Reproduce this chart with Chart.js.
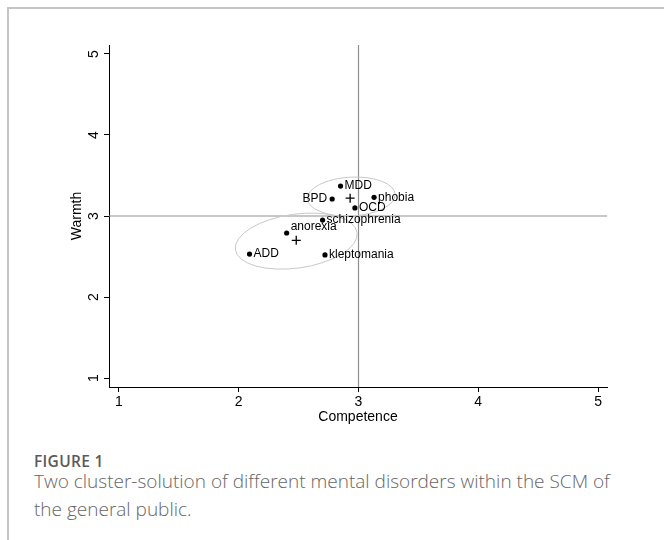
<!DOCTYPE html>
<html>
<head>
<meta charset="utf-8">
<script src="https://cdn.jsdelivr.net/npm/chart.js@4.4.1/dist/chart.umd.min.js"></script>
<style>
	html, body { margin: 0; padding: 0; background: #fff; }
	body { width: 664px; height: 540px; position: relative; overflow: hidden; }
	.frame { position: absolute; left: 7px; top: 7px; right: -4px; bottom: -4px; border-left: 2px solid #c4c4c4; border-top: 2px solid #c4c4c4; }
	.chart { position: absolute; left: 0; top: 0; }
	.fig-label { position: absolute; left: 34px; top: 450px; font: 600 15.5px "Open Sans", sans-serif; color: #5a5a5a; letter-spacing: 0.3px; }
	.fig-caption { position: absolute; left: 34px; top: 467px; font: 300 19px/28px "Open Sans", sans-serif; color: #666; white-space: nowrap; }
</style>
</head>
<body>
<div class="frame"></div>
<canvas class="chart" id="chart" width="664" height="440"></canvas>
<div class="fig-label">FIGURE 1</div>
<div class="fig-caption">Two cluster-solution of different mental disorders within the SCM of<br>the general public.</div>

<script>
const disorders = ['MDD', 'BPD', 'phobia', 'OCD', 'schizophrenia', 'anorexia', 'ADD', 'kleptomania'];
const competence = [2.85, 2.78, 3.13, 2.97, 2.70, 2.40, 2.09, 2.72];
const warmth = [3.37, 3.21, 3.23, 3.10, 2.95, 2.79, 2.53, 2.52];
// where the label sits relative to its point (Stata clock positions)
const labelPos = [3, 9, 3, 3, 3, 2, 3, 3];

// cluster centres (+) and their ellipses
const clusterCompetence = [2.93, 2.48];
const clusterWarmth = [3.22, 2.70];
const ellipseCompetence = [2.94, 2.48];
const ellipseWarmth = [3.24, 2.69];
const ellipseHalfCompetence = [0.367, 0.513];
const ellipseHalfWarmth = [0.24, 0.333];
const ellipseTilt = [-3, -8];

const xTicks = [1, 2, 3, 4, 5];
const yTicks = [1, 2, 3, 4, 5];
const midCompetence = 3;
const midWarmth = 3;

const FONT = '"Liberation Sans", Arial, sans-serif';

//Опорные линии, эллипсы и подписи точек
const overlay = {
	id: 'overlay',
	beforeDatasetsDraw(chart) {
		let ctx = chart.ctx;
		let area = chart.chartArea;
		let xs = chart.scales.x;
		let ys = chart.scales.y;

		ctx.save();
		ctx.strokeStyle = '#8f8f8f';
		ctx.lineWidth = 1.2;
		let px = xs.getPixelForValue(midCompetence);
		let py = ys.getPixelForValue(midWarmth);
		ctx.beginPath();
		ctx.moveTo(px, area.top);
		ctx.lineTo(px, area.bottom);
		ctx.moveTo(area.left, py);
		ctx.lineTo(area.right, py);
		ctx.stroke();

		ctx.strokeStyle = '#c8c8c8';
		ctx.lineWidth = 1;
		ellipseCompetence.forEach((cx, i) => {
			let x0 = xs.getPixelForValue(cx);
			let y0 = ys.getPixelForValue(ellipseWarmth[i]);
			let rx = Math.abs(xs.getPixelForValue(cx + ellipseHalfCompetence[i]) - x0);
			let ry = Math.abs(ys.getPixelForValue(ellipseWarmth[i] + ellipseHalfWarmth[i]) - y0);
			ctx.beginPath();
			ctx.ellipse(x0, y0, rx, ry, ellipseTilt[i] * Math.PI / 180, 0, Math.PI * 2);
			ctx.stroke();
		});
		ctx.restore();
	},
	afterDatasetsDraw(chart) {
		let ctx = chart.ctx;
		let meta = chart.getDatasetMeta(0);

		ctx.save();
		ctx.font = '12px ' + FONT;
		ctx.fillStyle = '#000';
		ctx.textBaseline = 'middle';
		meta.data.forEach((pt, i) => {
			let pos = labelPos[i];
			if (pos === 9) {
				ctx.textAlign = 'right';
				ctx.fillText(disorders[i], pt.x - 5, pt.y);
			} else if (pos === 2) {
				ctx.textAlign = 'left';
				ctx.fillText(disorders[i], pt.x + 4, pt.y - 6);
			} else {
				ctx.textAlign = 'left';
				ctx.fillText(disorders[i], pt.x + 4, pt.y);
			}
		});
		ctx.restore();
	}
};

let points = competence.map((c, i) => ({ x: c, y: warmth[i] }));
let centres = clusterCompetence.map((c, i) => ({ x: c, y: clusterWarmth[i] }));

new Chart(document.getElementById('chart'), {
	type: 'scatter',
	data: {
		datasets: [
			{
				data: points,
				backgroundColor: '#000',
				borderWidth: 0,
				pointRadius: 2.6
			},
			{
				data: centres,
				pointStyle: 'cross',
				pointRadius: 4.5,
				borderColor: '#000',
				borderWidth: 1.3
			}
		]
	},
	options: {
		responsive: false,
		animation: false,
		events: [],
		layout: { padding: { left: 0, top: 45, right: 57, bottom: 0 } },
		plugins: { legend: { display: false }, tooltip: { enabled: false } },
		scales: {
			x: {
				type: 'linear',
				min: 0.9165,
				max: 5.075,
				afterBuildTicks: (s) => { s.ticks = xTicks.map(v => ({ value: v })); },
				afterFit: (s) => { s.height = 53; },
				grid: { drawOnChartArea: false, tickLength: 5, color: '#000' },
				border: { color: '#000', width: 1 },
				ticks: { color: '#000', padding: 2, maxRotation: 0, font: { family: FONT, size: 14 } },
				title: { display: true, text: 'Competence', color: '#000', font: { family: FONT, size: 14 }, padding: { top: 0, bottom: 14 } }
			},
			y: {
				type: 'linear',
				min: 0.889,
				max: 5.111,
				afterBuildTicks: (s) => { s.ticks = yTicks.map(v => ({ value: v })); },
				afterFit: (s) => { s.width = 109; },
				grid: { drawOnChartArea: false, tickLength: 5, color: '#000' },
				border: { color: '#000', width: 1 },
				ticks: { color: '#000', padding: 6, minRotation: 90, maxRotation: 90, crossAlign: 'center', font: { family: FONT, size: 14 } },
				title: { display: true, text: 'Warmth', color: '#000', font: { family: FONT, size: 14 }, padding: { top: 68.5, bottom: 0 } }
			}
		}
	},
	plugins: [overlay]
});
</script>
</body>
</html>
